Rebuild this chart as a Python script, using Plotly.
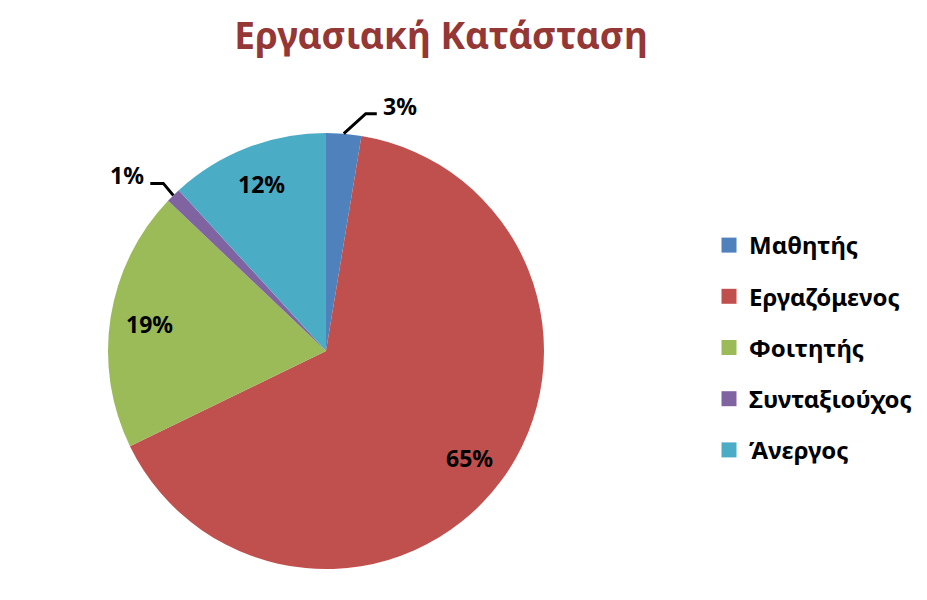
import math
import plotly.graph_objects as go

# Data (percent of respondents)
labels = ['Μαθητής', 'Εργαζόμενος', 'Φοιτητής', 'Συνταξιούχος', 'Άνεργος']
values = [2.6, 65.2, 19.3, 1.1, 11.8]
colors = ['#4F81BD', '#C0504D', '#9BBB59', '#8064A2', '#4BACC6']

W, H = 927, 600
FONT = 'Noto Sans'
OFF = 8  # page body margin shifts the figure by 8px

# pie geometry (pixels, figure coordinates)
cx, cy, r = 326 - OFF, 351 - OFF, 218
dom_x = [(cx - r) / W, (cx + r) / W]
dom_y = [(H - cy - r) / H, (H - cy + r) / H]

fig = go.Figure()
fig.add_trace(go.Pie(
    labels=labels,
    values=values,
    sort=False,
    direction='clockwise',
    rotation=0,
    marker=dict(colors=colors, line=dict(width=0)),
    textinfo='none',
    domain=dict(x=dom_x, y=dom_y),
    showlegend=False,
    hoverinfo='label+percent',
))

# legend via dummy traces so the item spacing can be controlled
for i, (lab, col) in enumerate(zip(labels, colors)):
    fig.add_trace(go.Scatter(
        x=[None], y=[None], mode='markers', name=lab,
        marker=dict(symbol='square', size=15, color=col),
        legendgroup=str(i), showlegend=True,
    ))


def px2paper(x, y):
    return x / W, 1 - y / H


label_font = dict(family=FONT, size=23, color='black', weight='bold')

# data labels: inside at 0.82 R, small slices outside with an elbow leader
total = sum(values)
cum = 0
shapes, annotations = [], []
small = {0: (22, -20, 11, 'left'), 3: (-10, -12, -13, 'right')}
for i, v in enumerate(values):
    mid = (cum + v / 2) / total * 2 * math.pi
    cum += v
    pct = f'{round(v / total * 100)}%'
    if i not in small:
        tx, ty = px2paper(cx + 0.82 * r * math.sin(mid), cy - 0.82 * r * math.cos(mid))
        annotations.append(dict(
            x=tx, y=ty, xref='paper', yref='paper', text=pct, showarrow=False,
            xanchor='center', yanchor='middle', font=label_font,
        ))
        continue
    dx, dy, hx, side = small[i]
    x0 = cx + r * math.sin(mid)
    y0 = cy - r * math.cos(mid)
    x1, y1 = x0 + dx, y0 + dy
    x2 = x1 + hx
    p0, p1, p2 = px2paper(x0, y0), px2paper(x1, y1), px2paper(x2, y1)
    shapes.append(dict(
        type='path', xref='paper', yref='paper',
        path=f'M {p0[0]},{p0[1]} L {p1[0]},{p1[1]} L {p2[0]},{p2[1]}',
        line=dict(color='black', width=3),
    ))
    tx, ty = px2paper(x2 + (4 if side == 'left' else -4), y1 - 8)
    annotations.append(dict(
        x=tx, y=ty, xref='paper', yref='paper', text=pct, showarrow=False,
        xanchor=side, yanchor='middle', font=label_font,
    ))

fig.update_layout(
    width=W, height=H,
    margin=dict(l=0, r=0, t=0, b=0),
    paper_bgcolor='white', plot_bgcolor='white',
    title=dict(
        text='<b>Εργασιακή Κατάσταση</b>',
        x=(441 - OFF) / W, xanchor='center', y=1 - (36 - OFF) / H, yanchor='middle',
        font=dict(family=FONT, size=37, color='#953735'),
    ),
    xaxis=dict(visible=False), yaxis=dict(visible=False),
    legend=dict(
        x=701 / W, xanchor='left', y=1 - 215 / H, yanchor='top',
        font=dict(family=FONT, size=24, color='black', weight='bold'),
        tracegroupgap=17, itemwidth=30,
        bgcolor='rgba(0,0,0,0)',
    ),
    shapes=shapes,
    annotations=annotations,
)

fig.write_html('out.html')
